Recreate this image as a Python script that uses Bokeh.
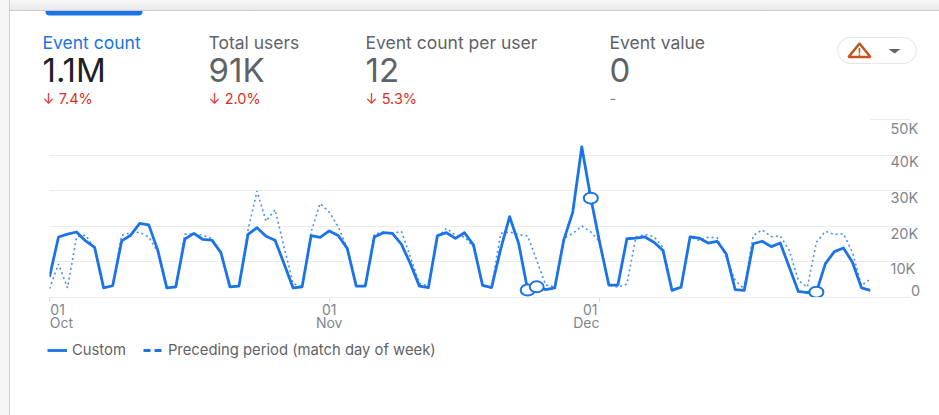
from bokeh.plotting import figure
from bokeh.embed import file_html
from bokeh.resources import INLINE
from bokeh.layouts import column
from bokeh.models import (Range1d, LinearAxis, FixedTicker, Label, BoxAnnotation, PolyAnnotation,
                          Legend, LegendItem, ColumnDataSource)

custom = [5.8,17,17.8,18.4,15.9,14.1,2.7,3.3,15.9,17.5,20.8,20.4,13.3,2.7,3.0,16.4,18,16.3,16.1,12.6,3.0,3.2,
          17.7,19.6,17.2,16.1,9.5,2.7,3,17.4,16.9,18.7,17.4,13.8,3.2,3.2,17,18.2,18,15,9.5,3.2,2.8,17.4,18.2,16.6,
          18.2,14.7,3.4,2.8,13.5,22.7,15.2,2.1,3,2.2,2.7,16.1,24,42.3,27.9,15.2,3.5,3.5,16.5,16.7,17,15.5,13.2,2,2.9,
          17,16.7,15.3,15.8,12.3,2.2,2,15.1,15.8,14.3,15.3,8.5,1.7,1.4,1.5,9.5,12.9,13.9,9.9,2.7,2]
preceding = [2.5,9.4,2.7,17,17.5,13.8,2.7,3.3,17.5,18.2,18.3,17,12.8,2.7,3.0,17.8,17.8,17.5,16.6,12.6,3.0,3.2,
             18.9,29.9,21.4,24.7,14.2,3.9,3,18.4,26.4,24,19.9,13.8,3.2,3.2,17.8,18.4,18,18.6,11.4,3.9,3.2,17,19.4,17.5,
             17,14.2,3.4,2.8,18,18.4,17.7,17.3,10.5,3.5,3,16.6,18,20.1,18.4,15.6,3.5,2.9,3.8,17,17.7,17.1,14.1,2,2.9,
             17,16,16.9,16.8,11.3,4.8,2.4,17.4,19,17.1,17.3,13.2,4.8,2.9,15.5,18.6,17.7,17.9,12.7,3.4,5.2]
days = list(range(len(custom)))
highlight_days = [53, 54, 60, 85]
y_ticks = [0, 10, 20, 30, 40, 50]
y_labels = ["\u00a0\u00a0\u00a0\u00a0\u00a00\n", "\n10K", "\n20K", "\n30K", "\n40K", "\n50K"]
x_ticks = [0, 31, 61]
x_label_pos = [1.33, 31, 59.5]
x_labels = ["01\u00a0\u00a0\nOct", "01\nNov", "\u00a0\u00a001\nDec"]
metric_names = ["Event count", "Total users", "Event count per user", "Event value"]
metric_values = ["1.1M", "91K", "12", "0"]
metric_changes = ["↓ 7.4%", "↓ 2.0%", "↓ 5.3%", "-"]

FONT = "Inter"
BLUE = "#1a73e8"
W = 939

def blank(h):
    f = figure(width=W, height=h, output_backend="svg", toolbar_location=None,
               x_range=Range1d(0, W), y_range=Range1d(h, 0), x_axis_location=None, y_axis_location=None,
               min_border=0, outline_line_color=None, background_fill_alpha=0, border_fill_alpha=0,
               frame_align=False)
    f.grid.visible = False
    return f

# ---- header
head = blank(106)
def label(f, px, py, text, size, color, align="left", weight="normal"):
    f.add_layout(Label(x=px, y=py, text=text, text_font=FONT, text_font_size=size, text_color=color,
                       text_align=align, text_baseline="middle", text_font_style=weight))
head.add_layout(BoxAnnotation(left=45, right=142, top=10.5, bottom=15, fill_color=BLUE, fill_alpha=1, line_color=None,
                              border_radius=dict(top_left=0, top_right=0, bottom_right=4, bottom_left=4)))
metric_x = [42, 208, 365, 609]
name_colors = [BLUE, "#5f6368", "#5f6368", "#5f6368"]
value_colors = ["#202124", "#5f6368", "#5f6368", "#5f6368"]
for px, n, v, ch, nc, vc in zip(metric_x, metric_names, metric_values, metric_changes, name_colors, value_colors):
    label(head, px, 41.5, n, "17.5px", nc)
    label(head, px, 69.5, v, "33px", vc)
    label(head, px, 97.5, ch, "14.5px", "#d93025" if ch != "-" else "#80868b")
head.add_layout(BoxAnnotation(left=837, right=916, top=37, bottom=63, fill_color="white", fill_alpha=1,
                              line_color="#e3e5e8", line_alpha=1, line_width=1, border_radius=13))
head.add_layout(PolyAnnotation(xs=[848, 859, 870], ys=[56.5, 43, 56.5], fill_alpha=0, line_color="#c5541c", line_alpha=1, line_width=2.5))
label(head, 859, 51, "!", "10px", "#c5541c", align="center", weight="bold")
head.add_layout(PolyAnnotation(xs=[888, 894, 900], ys=[48.5, 53, 48.5], fill_color="#5f6368", fill_alpha=1, line_color=None))

# ---- chart
p = figure(width=W, height=234, output_backend="svg", toolbar_location=None,
           x_range=Range1d(0, 91), y_range=Range1d(0, 50),
           min_border_left=49, min_border_right=69, min_border_top=13, min_border_bottom=43,
           x_axis_location=None, y_axis_location=None, frame_align=False,
           background_fill_alpha=0, border_fill_alpha=0, outline_line_color=None)
p.xgrid.visible = False
p.ygrid.ticker = FixedTicker(ticks=y_ticks)
p.ygrid.grid_line_color = "#ebebeb"
xaxis = LinearAxis(ticker=FixedTicker(ticks=x_ticks), major_label_overrides={t: "" for t in x_ticks},
                   axis_line_color="#ebebeb", major_tick_line_color="#dadce0", major_tick_out=5, major_tick_in=0,
                   minor_tick_line_color=None, major_label_standoff=0)
p.add_layout(xaxis, "below")
xlab = LinearAxis(ticker=FixedTicker(ticks=x_label_pos),
                  major_label_overrides=dict(zip(x_label_pos, x_labels)),
                  axis_line_color=None, major_tick_line_color=None, minor_tick_line_color=None,
                  major_label_standoff=-2, major_label_text_font=FONT, major_label_text_font_size="14px",
                  major_label_text_line_height=0.77,
                  major_label_text_color="#80868b", major_tick_out=0, major_tick_in=0)
p.add_layout(xlab, "below")
yaxis = LinearAxis(ticker=FixedTicker(ticks=y_ticks),
                   major_label_overrides=dict(zip(y_ticks, y_labels)),
                   major_tick_out=46, major_tick_in=0, major_tick_line_color="#ebebeb", major_tick_line_dash="0 6 40 50",
                   axis_line_color=None, minor_tick_line_color=None, major_label_standoff=-26,
                   major_label_text_line_height=0.8,
                   major_label_text_font=FONT, major_label_text_font_size="14.5px", major_label_text_color="#80868b")
p.add_layout(yaxis, "right")
src = ColumnDataSource(dict(x=days, c=custom, pv=preceding))
p.line("x", "pv", source=src, line_color="#4a90ec", line_width=1.6, line_dash="2 3")
p.line("x", "c", source=src, line_color=BLUE, line_width=2.8, line_join="round")
p.ellipse([days[d] for d in highlight_days], [custom[d] for d in highlight_days], width=14, height=11,
          width_units="screen", height_units="screen", fill_color="white", line_color=BLUE, line_width=2)

# ---- footer with the legend
foot = blank(75)
r_k1 = foot.line([-50, -40], [-50, -50], line_color=BLUE, line_width=2.8)
r_k2 = foot.line([-50, -40], [-50, -50], line_color=BLUE, line_width=2.8, line_dash="7 4")
legend = Legend(items=[LegendItem(label="Custom", renderers=[r_k1]),
                       LegendItem(label="Preceding period (match day of week)", renderers=[r_k2])],
                orientation="horizontal", location=(47, 56), glyph_width=20, glyph_height=10, label_standoff=5,
                spacing=17, padding=0, margin=0, border_line_color=None, background_fill_alpha=0,
                label_text_font=FONT, label_text_font_size="14.8px", label_text_color="#5f6368")
foot.add_layout(legend, "center")

page = column(head, p, foot, spacing=0, styles={
    "background": "linear-gradient(90deg,#f6f6f6 0,#f6f6f6 9px,#cfcfcf 9px,#cfcfcf 10px,transparent 10px),"
                  "linear-gradient(180deg,#f7f7f7 0,#e9e9e9 10px,#cccccc 10px,#cccccc 11px,#ffffff 11px)"})
open("out.html", "w").write(file_html(page, INLINE))
